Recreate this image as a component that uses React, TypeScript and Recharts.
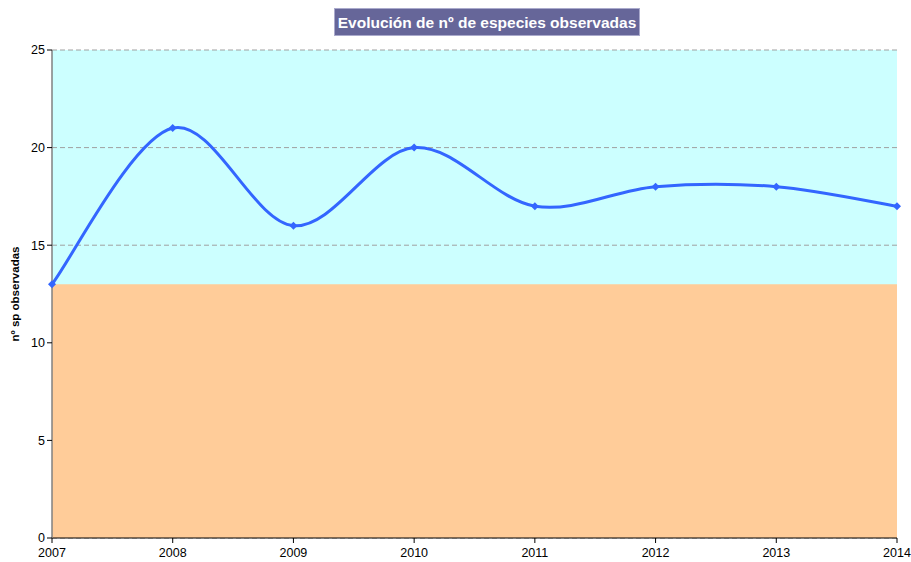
import React from 'react';
import { LineChart, Line, XAxis, YAxis, CartesianGrid, ReferenceArea } from 'recharts';

const years = ['2007', '2008', '2009', '2010', '2011', '2012', '2013', '2014'];
const species = [13, 21, 16, 20, 17, 18, 18, 17];
const yTicks = [0, 5, 10, 15, 20, 25];
const threshold = 13;
const yMax = 25;

const data = years.map((y, i) => ({ year: y, value: species[i] }));

// Catmull-Rom style smoothing similar to Excel's smoothed line
function smoothCurve(context: any) {
  let pts: [number, number][] = [];
  return {
    areaStart() {},
    areaEnd() {},
    lineStart() {
      pts = [];
    },
    point(x: number, y: number) {
      pts.push([+x, +y]);
    },
    lineEnd() {
      if (!pts.length) return;
      context.moveTo(pts[0][0], pts[0][1]);
      for (let i = 0; i < pts.length - 1; i++) {
        const p0 = pts[i - 1] || pts[i];
        const p1 = pts[i];
        const p2 = pts[i + 1];
        const p3 = pts[i + 2] || p2;
        const c1x = p1[0] + (p2[0] - p0[0]) / 6;
        const c1y = p1[1] + (p2[1] - p0[1]) / 6;
        const c2x = p2[0] - (p3[0] - p1[0]) / 6;
        const c2y = p2[1] - (p3[1] - p1[1]) / 6;
        context.bezierCurveTo(c1x, c1y, c2x, c2y, p2[0], p2[1]);
      }
    },
  };
}

const Diamond = (props: any) => {
  const { cx, cy } = props;
  if (cx == null || cy == null) return null;
  const r = 4;
  return (
    <path
      d={`M${cx},${cy - r}L${cx + r},${cy}L${cx},${cy + r}L${cx - r},${cy}Z`}
      fill="#3366FF"
      stroke="none"
    />
  );
};

const FONT = 'Arial, "Liberation Sans", sans-serif';

export default function App() {
  return (
    <div style={{ position: 'absolute', left: 0, top: 0, width: 911, height: 562, background: '#fff', fontFamily: FONT }}>
      <div
        style={{
          position: 'absolute',
          left: 334,
          top: 8,
          width: 306,
          height: 28,
          background: '#666699',
          color: '#fff',
          fontWeight: 'bold',
          fontSize: 15.5,
          lineHeight: '28px',
          textAlign: 'center',
          border: '1px solid #aaaacc',
          boxSizing: 'border-box',
          whiteSpace: 'nowrap',
        }}
      >
        Evolución de nº de especies observadas
      </div>
      <LineChart width={911} height={562} data={data} margin={{ top: 50, right: 14, bottom: 0, left: 0 }}>
        <CartesianGrid
          vertical={false}
          stroke="#a0a0a0"
          strokeDasharray="5 3"
          fill="#CCFFFF"
          fillOpacity={1}
        />
        <ReferenceArea y1={0} y2={threshold} fill="#FFCC99" fillOpacity={1} stroke="none" ifOverflow="visible" />
        <XAxis
          dataKey="year"
          padding={{ left: 0, right: 0 }}
          height={24}
          axisLine={{ stroke: '#000' }}
          tickLine={{ stroke: '#000' }}
          tickSize={5}
          tick={{ fill: '#000', fontSize: 12.5, fontFamily: FONT, dy: 3 }}
          interval={0}
        />
        <YAxis
          domain={[0, yMax]}
          ticks={yTicks}
          width={52}
          axisLine={{ stroke: '#808080', strokeWidth: 1.5 }}
          tickLine={{ stroke: '#000' }}
          tickSize={5}
          tick={{ fill: '#000', fontSize: 12.5, fontFamily: FONT }}
          label={{
            value: 'nº sp observadas',
            angle: -90,
            position: 'insideLeft',
            offset: 15,
            style: { textAnchor: 'middle', fontSize: 11.5, fontWeight: 'bold', fill: '#000', fontFamily: FONT },
          }}
        />
        <Line
          dataKey="value"
          type={smoothCurve as any}
          stroke="#3366FF"
          strokeWidth={3}
          dot={<Diamond />}
          activeDot={false}
          isAnimationActive={false}
        />
      </LineChart>
    </div>
  );
}
